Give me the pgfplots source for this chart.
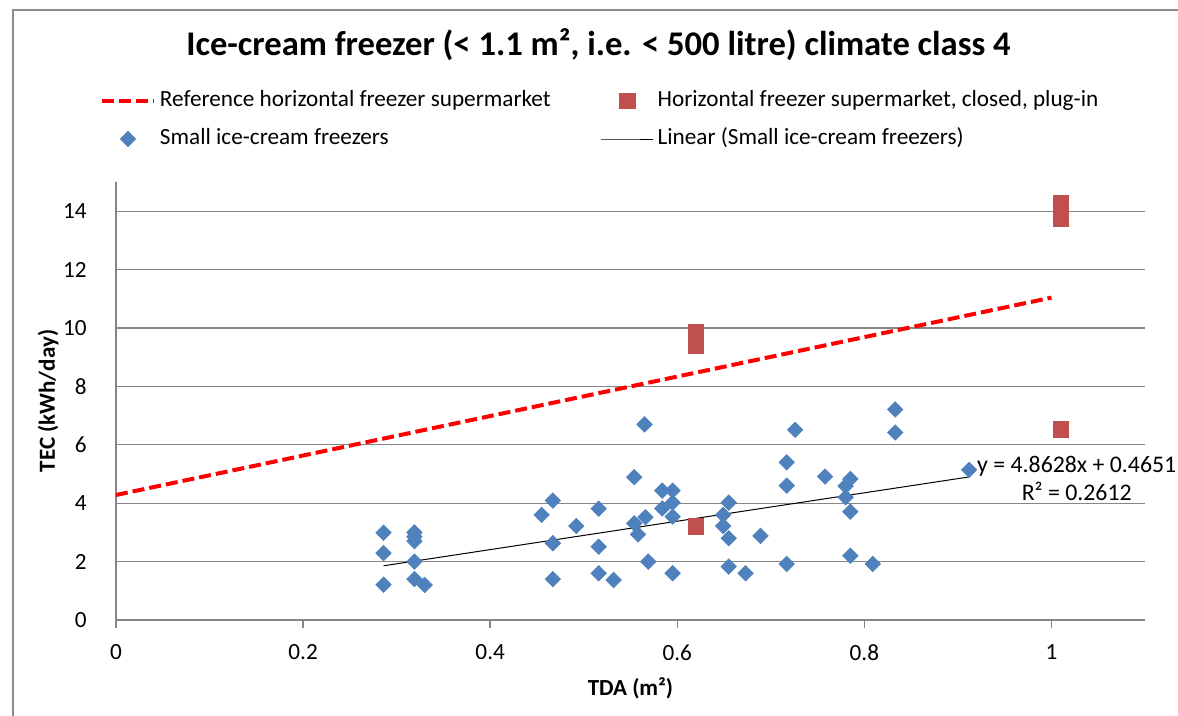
\documentclass[border=0pt]{standalone}
\usepackage{fontspec}
\setmainfont{Carlito}
\usepackage{pgfplots}
\pgfplotsset{compat=1.18}
\definecolor{xlblue}{HTML}{4F81BD}
\definecolor{xlred}{HTML}{C0504D}
\definecolor{xlgray}{HTML}{868686}
\definecolor{framegray}{HTML}{8C8C8C}
\newcommand{\txt}{\fontsize{11.6}{13.85}\selectfont}

\begin{document}
\begin{tikzpicture}
% chart area frame (left and top edges visible)
\draw[framegray, line width=1pt] (6.5pt,0pt) -- (6.5pt,353pt) -- (589pt,353pt);
\begin{axis}[
  at={(58pt,48pt)}, anchor=south west,
  scale only axis, width=514.5pt, height=219pt,
  xmin=0, xmax=1.1, ymin=0, ymax=15,
  xtick={0,0.2,0.4,0.6,0.8,1},
  ytick={0,2,4,6,8,10,12,14},
  axis x line*=bottom, axis y line*=left,
  axis line style={xlgray, line width=0.75pt},
  ymajorgrids, grid style={xlgray, line width=0.6pt},
  tick align=outside, major tick length=4pt,
  xtick style={xlgray, line width=0.75pt},
  ytick style={draw=none},
  /pgf/number format/assume math mode=true,
  ticklabel style={font=\txt},
  xticklabel style={inner sep=0pt, anchor=north, yshift=-8pt},
  yticklabel style={inner sep=0pt, anchor=east, xshift=-10.5pt},
  xlabel={TDA (m²)},
  ylabel={TEC (kWh/day)},
  xlabel style={font=\fontsize{11.5}{13}\selectfont\bfseries, inner sep=0pt,
    at={(axis description cs:0.5,-0.155)}, anchor=center},
  ylabel style={font=\fontsize{11.5}{13}\selectfont\bfseries, inner sep=0pt,
    at={(axis description cs:-0.066,0.5)}, anchor=center},
  title={Ice-cream freezer (< 1.1 m², i.e. < 500 litre) climate class 4},
  title style={font=\fontsize{17.3}{20}\selectfont\bfseries, inner sep=0pt,
    at={(axis description cs:0.469,1.2877)}, anchor=base, yshift=-6pt},
  legend columns=2,
  legend cell align=left,
  legend style={draw=none, fill=none, inner sep=0pt, outer sep=0pt,
    at={(axis description cs:-0.01555,1.2100)}, anchor=north west,
    font=\txt, row sep=8pt, column sep=0pt,
    nodes={inner sep=0pt, text height=8pt, text depth=3pt},
    /tikz/every odd column/.append style={column sep=2pt},
    /tikz/every even column/.append style={column sep=25pt}},
  legend image code/.code={\draw[mark repeat=2, mark phase=2, #1]
    plot coordinates {(0pt,0pt) (13pt,0pt) (26pt,0pt)};},
  clip=false,
]
% reference line
\addplot[red, line width=2pt, dash pattern=on 6pt off 2.5pt] coordinates {
  (0,4.28) (1.0,11.04)
};
\addlegendentry{Reference horizontal freezer supermarket}
% horizontal freezers supermarket, closed, plug-in
\addplot[only marks, mark=square*, mark size=3.9pt, xlred] coordinates {
  (0.62,9.38) (0.62,9.62) (0.62,9.87)
  (1.01,13.74) (1.01,14.0) (1.01,14.27)
  (1.01,6.53) (0.62,3.2)
};
\addlegendentry{Horizontal freezer supermarket, closed, plug-in}
% small ice-cream freezers
\addplot[only marks, mark=square*, mark size=2.7pt, xlblue, mark options={rotate=45}] coordinates {
  (0.286,2.99) (0.286,2.29) (0.286,1.21)
  (0.319,3.0) (0.319,2.85) (0.319,2.7) (0.319,2.0) (0.319,1.4)
  (0.330,1.2)
  (0.455,3.6)
  (0.467,4.09) (0.467,2.63) (0.467,1.40)
  (0.492,3.22)
  (0.516,3.81) (0.516,2.51) (0.516,1.60)
  (0.532,1.37)
  (0.554,4.89) (0.554,3.31)
  (0.558,2.93)
  (0.565,6.70)
  (0.566,3.52)
  (0.569,2.0)
  (0.584,4.43) (0.584,3.82)
  (0.595,4.43) (0.595,4.02) (0.595,3.54) (0.595,1.60)
  (0.649,3.6) (0.649,3.22)
  (0.655,4.02) (0.655,2.8) (0.655,1.83)
  (0.673,1.6)
  (0.689,2.88)
  (0.717,5.40) (0.717,4.60) (0.717,1.92)
  (0.726,6.51)
  (0.758,4.91)
  (0.780,4.59) (0.780,4.2)
  (0.785,4.83) (0.785,3.71) (0.785,2.20)
  (0.809,1.92)
  (0.833,7.21) (0.833,6.42)
  (0.912,5.14)
};
\addlegendentry{Small ice-cream freezers}
% linear trend
\addplot[black, line width=0.5pt] coordinates {
  (0.286,1.856) (0.912,4.900)
};
\addlegendentry{Linear (Small ice-cream freezers)}
\node[align=center, font=\fontsize{11.9}{14}\selectfont, inner sep=0pt] at (axis cs:1.027,4.83)
  {y = 4.8628x + 0.4651\\R² = 0.2612};
\end{axis}
\pgfresetboundingbox
\useasboundingbox (0,0) rectangle (589pt,358pt);
\end{tikzpicture}
\end{document}
